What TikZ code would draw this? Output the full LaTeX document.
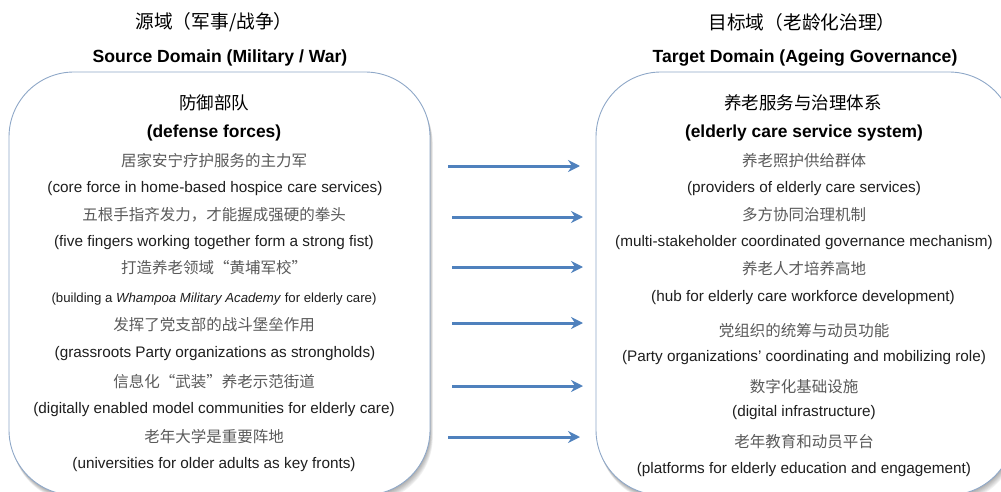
\documentclass[tikz,border=0pt]{standalone}
\usepackage{fontspec}
\setmainfont{Liberation Sans}
\newfontfamily\cjk{Noto Sans CJK SC}
\usetikzlibrary{arrows.meta}
\definecolor{boxline}{HTML}{8FA8C8}
\definecolor{arrowblue}{HTML}{4F81BD}
\definecolor{zhgray}{HTML}{5A5A5A}
\definecolor{entext}{HTML}{1E1E1E}

\tikzset{
  sectitle/.style={font=\cjk\fontsize{18.7}{22}\selectfont, inner sep=0pt},
  domaintitle/.style={font=\bfseries\fontsize{17.6}{20}\selectfont, inner sep=0pt},
  headzh/.style={font=\cjk\fontsize{17.5}{20}\selectfont, inner sep=0pt},
  headen/.style={font=\bfseries\fontsize{17.4}{20}\selectfont, inner sep=0pt},
  itemzh/.style={font=\cjk\fontsize{15.5}{18}\selectfont, text=zhgray, inner sep=0pt},
  itemen/.style={font=\fontsize{15.3}{18}\selectfont, text=entext, inner sep=0pt},
  itemensmall/.style={font=\fontsize{13.2}{15}\selectfont, text=entext, inner sep=0pt},
  panelbox/.style={draw=boxline, line width=0.9pt, fill=white, rounded corners=65pt},
  panelshade/.style={fill=black, fill opacity=0.05, rounded corners=65pt},
  maparrow/.style={draw=arrowblue, line width=3pt,
    -{Stealth[length=12pt,width=12pt,inset=4pt]}},
}

\begin{document}
\begin{tikzpicture}[x=1pt,y=-1pt]
\useasboundingbox (0,0) rectangle (1001,492);
\clip (0,0) rectangle (1001,492);

% soft shadow under both panels
\foreach \d in {1,...,7} {
  \fill[panelshade] (9+0.4*\d,72+\d) rectangle (430+0.4*\d,495+\d);
  \fill[panelshade] (596+0.4*\d,72+\d) rectangle (1014+0.4*\d,495+\d);
}
\draw[panelbox] (9,72) rectangle (430,495);
\draw[panelbox] (596,72) rectangle (1014,495);

% source domain
\node[sectitle]    (stitle)  at (214,22)  {源域（军事/战争）};
\node[domaintitle] (sdom)    at (220,58)  {Source Domain (Military / War)};
\node[headzh]      (shead)   at (214,103) {防御部队};
\node[headen]      (sheaden) at (214,133) {(defense forces)};
\node[itemzh] (s1zh) at (214,161) {居家安宁疗护服务的主力军};
\node[itemen] (s1en) at (215,189) {(core force in home-based hospice care services)};
\node[itemzh] (s2zh) at (214,215) {五根手指齐发力，才能握成强硬的拳头};
\node[itemen] (s2en) at (214,243) {(five fingers working together form a strong fist)};
\node[itemzh] (s3zh) at (214,268) {打造养老领域“黄埔军校”};
\node[itemensmall] (s3en) at (214,299) {(building a \textit{Whampoa Military Academy} for elderly care)};
\node[itemzh] (s4zh) at (214,325) {发挥了党支部的战斗堡垒作用};
\node[itemen] (s4en) at (215,354) {(grassroots Party organizations as strongholds)};
\node[itemzh] (s5zh) at (214,382) {信息化“武装”养老示范街道};
\node[itemen] (s5en) at (214,410) {(digitally enabled model communities for elderly care)};
\node[itemzh] (s6zh) at (214,437) {老年大学是重要阵地};
\node[itemen] (s6en) at (214,465) {(universities for older adults as key fronts)};

% target domain
\node[sectitle]    (ttitle)  at (802,22)  {目标域（老龄化治理）};
\node[domaintitle] (tdom)    at (805,58)  {Target Domain (Ageing Governance)};
\node[headzh]      (thead)   at (803,103) {养老服务与治理体系};
\node[headen]      (theaden) at (804,133) {(elderly care service system)};
\node[itemzh] (t1zh) at (804,161) {养老照护供给群体};
\node[itemen] (t1en) at (804,189) {(providers of elderly care services)};
\node[itemzh] (t2zh) at (804,215) {多方协同治理机制};
\node[itemen] (t2en) at (804,243) {(multi-stakeholder coordinated governance mechanism)};
\node[itemzh] (t3zh) at (804,269) {养老人才培养高地};
\node[itemen] (t3en) at (803,298) {(hub for elderly care workforce development)};
\node[itemzh] (t4zh) at (804,331) {党组织的统筹与动员功能};
\node[itemen] (t4en) at (804,358) {(Party organizations’ coordinating and mobilizing role)};
\node[itemzh] (t5zh) at (804,387) {数字化基础设施};
\node[itemen] (t5en) at (804,413) {(digital infrastructure)};
\node[itemzh] (t6zh) at (804,442) {老年教育和动员平台};
\node[itemen] (t6en) at (804,470) {(platforms for elderly education and engagement)};

% mapping arrows between the panels
\coordinate (a1s) at (448,166); \coordinate (a1e) at (580,166);
\coordinate (a2s) at (452,217); \coordinate (a2e) at (583,217);
\coordinate (a3s) at (452,267); \coordinate (a3e) at (583,267);
\coordinate (a4s) at (452,323); \coordinate (a4e) at (583,323);
\coordinate (a5s) at (452,386); \coordinate (a5e) at (583,386);
\coordinate (a6s) at (448,437); \coordinate (a6e) at (580,437);
\foreach \i in {1,...,6} \draw[maparrow] (a\i s) -- (a\i e);
\end{tikzpicture}
\end{document}
